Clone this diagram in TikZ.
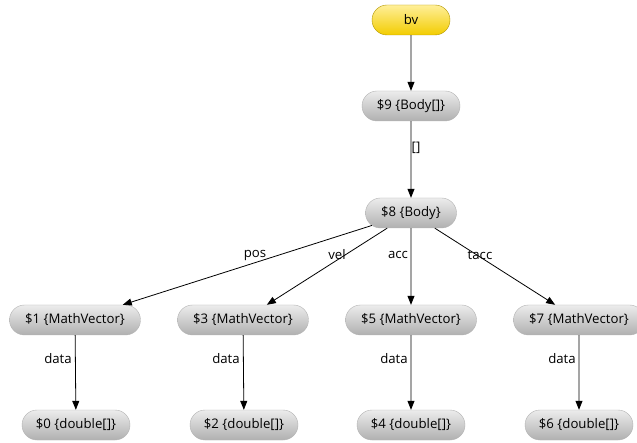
\documentclass[tikz,border=0pt]{standalone}
\usepackage{fontspec}
\setmainfont{Open Sans}
\usetikzlibrary{shapes.misc,arrows.meta}
\definecolor{gold}{RGB}{255,215,0}
\definecolor{nodegray}{RGB}{196,196,196}
\tikzset{
  x=1pt,y=-1pt,
  obj/.style={rounded rectangle,minimum height=30pt,inner sep=0pt,
    top color=gray!15,middle color=nodegray,bottom color=nodegray!90!black,draw=gray!60,
    font=\fontsize{13.2}{15}\selectfont},
  root/.style={obj,top color=gold!40,middle color=gold,bottom color=gold!95!black,draw=gold!70!black},
  conn/.style={draw=black,line width=0.8pt,-{Triangle[length=9pt,width=7pt]}},
  lbl/.style={font=\fontsize{13.2}{15}\selectfont,inner sep=0pt}
}
\begin{document}
\begin{tikzpicture}
\useasboundingbox[fill=white] (0,0) rectangle (637,443);
\node[root,minimum width=78pt] (bv) at (411,20) {bv};
\node[obj,minimum width=98pt] (n9) at (411,106) {\$9 \{Body[]\}};
\node[obj,minimum width=91pt] (n8) at (411,213) {\$8 \{Body\}};
\node[obj,minimum width=131pt] (n1) at (75,320) {\$1 \{MathVector\}};
\node[obj,minimum width=131pt] (n3) at (243,320) {\$3 \{MathVector\}};
\node[obj,minimum width=131pt] (n5) at (411,320) {\$5 \{MathVector\}};
\node[obj,minimum width=131pt] (n7) at (579,320) {\$7 \{MathVector\}};
\node[obj,minimum width=108pt] (n0) at (76,425) {\$0 \{double[]\}};
\node[obj,minimum width=108pt] (n2) at (244,425) {\$2 \{double[]\}};
\node[obj,minimum width=108pt] (n4) at (411,425) {\$4 \{double[]\}};
\node[obj,minimum width=108pt] (n6) at (579,425) {\$6 \{double[]\}};
\draw[conn] (bv) -- (n9);
\draw[conn] (n9) -- (n8);
\draw[conn] (n8) -- (n1);
\draw[conn] (n8) -- (n3);
\draw[conn] (n8) -- (n5);
\draw[conn] (n8) -- (n7);
\draw[conn] (n1) -- (n0);
\draw[conn] (n3) -- (n2);
\draw[conn] (n5) -- (n4);
\draw[conn] (n7) -- (n6);
\node[lbl] (l9) at (416,148) {[]};
\node[lbl] (lpos) at (255,255) {pos};
\node[lbl] (lvel) at (337,255) {vel};
\node[lbl] (lacc) at (398,255) {acc};
\node[lbl] (ltacc) at (480,255) {tacc};
\node[lbl] (ld0) at (58,359) {data};
\node[lbl] (ld2) at (226,359) {data};
\node[lbl] (ld4) at (394,359) {data};
\node[lbl] (ld6) at (562,359) {data};
\end{tikzpicture}
\end{document}
